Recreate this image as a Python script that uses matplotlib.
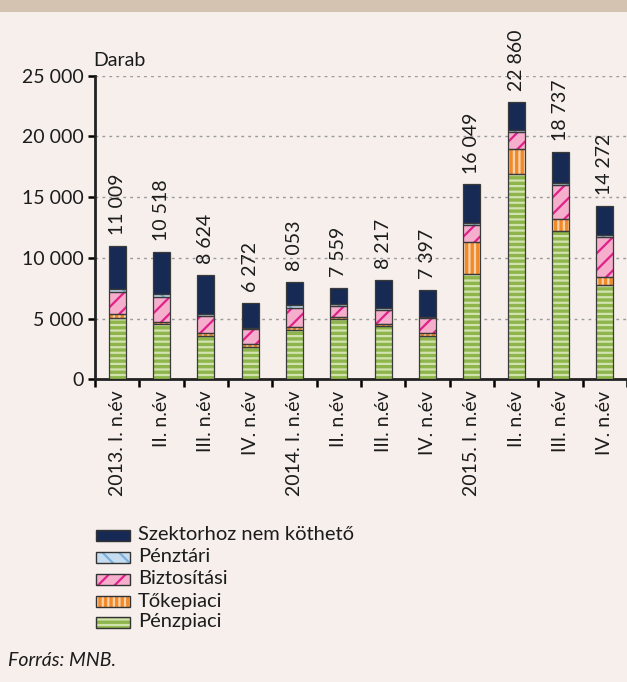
import numpy as np
import matplotlib
matplotlib.use("Agg")
import matplotlib.pyplot as plt
from matplotlib.patches import Rectangle

plt.rcParams['font.family'] = ['Lato', 'DejaVu Sans']
plt.rcParams['hatch.linewidth'] = 1.6

# negyedéves adatok, darab
categories = ["2013. I. n.év", "II. n.év", "III. n.év", "IV. n.év",
              "2014. I. n.év", "II. n.év", "III. n.év", "IV. n.év",
              "2015. I. n.év", "II. n.év", "III. n.év", "IV. n.év"]
totals = [11009, 10518, 8624, 6272, 8053, 7559, 8217, 7397, 16049, 22860, 18737, 14272]
penzpiaci = [5100, 4600, 3560, 2690, 4110, 4990, 4390, 3620, 8690, 16910, 12230, 7790]
tokepiaci = [250, 150, 280, 250, 220, 120, 160, 220, 2630, 2060, 1010, 660]
biztositasi = [1850, 2050, 1420, 1180, 1560, 930, 1200, 1180, 1370, 1370, 2800, 3290]
penztari = [250, 200, 140, 140, 220, 140, 140, 140, 160, 160, 140, 140]
szektor = [t - a - b - c - d for t, a, b, c, d in
           zip(totals, penzpiaci, tokepiaci, biztositasi, penztari)]

bg = '#F6EFEC'
txt = '#1c1c1c'
# (név, adatok, alapszín, mintaszín, minta)
series = [
    ("Pénzpiaci", penzpiaci, '#8DB54B', '#D3E3B0', '---'),
    ("Tőkepiaci", tokepiaci, '#F08A2A', '#FCD2A8', '|||'),
    ("Biztosítási", biztositasi, '#F5AECB', '#E0218A', '//'),
    ("Pénztári", penztari, '#C6DDF1', '#7DB0DA', '\\\\'),
    ("Szektorhoz nem köthető", szektor, '#172A54', '#172A54', None),
]

fig = plt.figure(figsize=(6.27, 6.82), dpi=100, facecolor=bg)
fig.patches.append(Rectangle((0, 1 - 12 / 682), 1, 12 / 682, transform=fig.transFigure,
                             facecolor='#D5C3B2', edgecolor='none', zorder=0))

ax = fig.add_axes([95 / 627, 1 - 379.5 / 682, 1 - 95 / 627, (379.5 - 75.7) / 682])
ax.set_facecolor(bg)

x = np.arange(len(categories))
width = 0.38
bottom = np.zeros(len(categories))
for name, vals, fc, hc, hatch in series:
    vals = np.array(vals, dtype=float)
    ax.bar(x, vals, width, bottom=bottom, facecolor=fc, edgecolor=hc,
           hatch=hatch, linewidth=0, zorder=3)
    ax.bar(x, vals, width, bottom=bottom, fill=False, edgecolor='#3a3a3a',
           linewidth=0.9, zorder=4)
    bottom += vals

for xi, t in zip(x, totals):
    ax.text(xi, t + 900, f"{t:,}".replace(",", " "), rotation=90,
            ha='center', va='bottom', fontsize=14, color=txt)

ax.set_xlim(-0.5, len(categories) - 0.5)
ax.set_ylim(0, 25000)
ax.set_yticks(np.arange(0, 25001, 5000))
ax.set_yticklabels([f"{v:,}".replace(",", " ") for v in range(0, 25001, 5000)],
                   fontsize=14, color=txt)
ax.yaxis.grid(True, linestyle=(0, (2, 3)), color='#9a9a9a', linewidth=1.0, zorder=1)

ax.set_xticks(np.arange(-0.5, len(categories), 1.0))
ax.set_xticklabels([])
ax.set_xticks(x, minor=True)
ax.set_xticklabels(categories, minor=True, rotation=90, fontsize=14,
                   va='top', ha='center', color=txt)
ax.tick_params(axis='x', which='minor', length=0, pad=8)
ax.tick_params(axis='x', which='major', length=6, width=1.8, direction='out')
ax.tick_params(axis='y', length=5, width=1.8, direction='out', pad=3)

for side in ['top', 'right']:
    ax.spines[side].set_visible(False)
for side in ['left', 'bottom']:
    ax.spines[side].set_linewidth(2.0)
    ax.spines[side].set_color('#222222')

fig.text(93 / 627, 1 - 60 / 682, "Darab", fontsize=14, ha='left', va='center', color=txt)

# jelmagyarázat kézzel: minta + keret + felirat
row_y = [535, 557, 579, 601, 622]
for (name, vals, fc, hc, hatch), yy in zip(reversed(series), row_y):
    x0, w, h = 96 / 627, 34 / 627, 11 / 682
    y0 = 1 - (yy + 5.5) / 682
    fig.patches.append(Rectangle((x0, y0), w, h, transform=fig.transFigure,
                                 facecolor=fc, edgecolor=hc, hatch=hatch, linewidth=0))
    fig.patches.append(Rectangle((x0, y0), w, h, transform=fig.transFigure,
                                 fill=False, edgecolor='#333333', linewidth=1.0))
    fig.text(138 / 627, 1 - yy / 682, name, fontsize=14.5, ha='left', va='center',
             color=txt)

fig.text(8 / 627, 1 - 660 / 682, "Forrás: MNB.", fontsize=14, style='italic',
         ha='left', va='center', color=txt)

fig.savefig("out.png", dpi=100, facecolor=bg)
